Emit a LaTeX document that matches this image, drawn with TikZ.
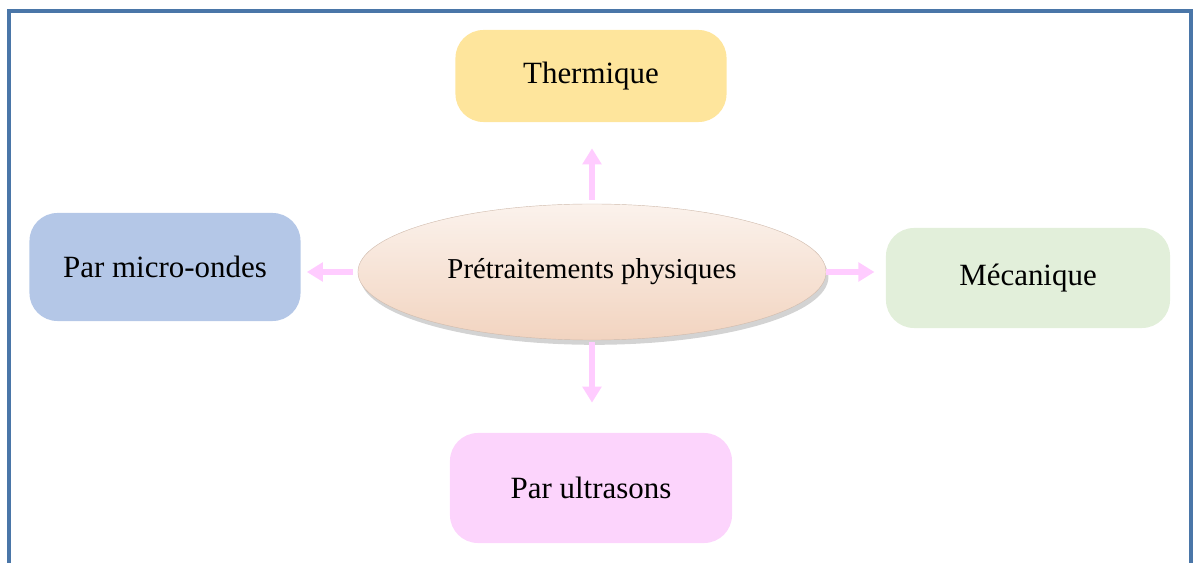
\documentclass[tikz,border=0pt]{standalone}
\usepackage{fontspec}
\setmainfont{Liberation Serif}
\usetikzlibrary{shapes.geometric,arrows.meta,shadows}

\definecolor{frameblue}{RGB}{74,118,168}
\definecolor{arrowpink}{RGB}{255,204,255}
\definecolor{thermcol}{RGB}{254,229,156}
\definecolor{microcol}{RGB}{180,199,231}
\definecolor{mecacol}{RGB}{226,239,218}
\definecolor{ultracol}{RGB}{252,212,252}
\definecolor{peach}{RGB}{242,212,192}

\begin{document}
\begin{tikzpicture}[x=0.025cm,y=-0.025cm,
    box/.style={rectangle,rounded corners=0.7cm,inner sep=0pt,font=\fontsize{22}{26}\selectfont},
    link/.style={-{Triangle[length=0.4cm,width=0.46cm]},line width=0.13cm,draw=arrowpink}]

      \useasboundingbox (0,0) rectangle (1193,563);
      \draw[frameblue,line width=0.085cm] (9,563) -- (9,11) -- (1191,11) -- (1191,563);

      \node[ellipse,inner sep=0pt,minimum width=11.7cm,minimum height=3.4cm,
            top color=peach!30,middle color=white,bottom color=peach,shading angle=0,
            draw=peach!70!gray,line width=0.3pt,
            drop shadow={opacity=0.35,shadow xshift=0.06cm,shadow yshift=-0.12cm},
            font=\fontsize{20.5}{24}\selectfont] (P) at (592,272){Prétraitements physiques};

      \node[box,fill=thermcol,minimum width=6.775cm,minimum height=2.3cm] (T) at (591,76){Thermique};
      \node[box,fill=microcol,minimum width=6.775cm,minimum height=2.7cm] (M) at (165,267){Par micro-ondes};
      \node[box,fill=mecacol,minimum width=7.1cm,minimum height=2.5cm] (C) at (1028,278){Mécanique};
      \node[box,fill=ultracol,minimum width=7.05cm,minimum height=2.75cm] (U) at (591,488){Par ultrasons};

      \draw[link,shorten <=0.1cm,shorten >=0.65cm] (P.north) -- (T.south -| P.north);
      \draw[link,shorten <=0.12cm,shorten >=0.15cm] (P.west) -- (P.west -| M.east);
      \draw[link,shorten >=0.28cm] (P.east) -- (P.east -| C.west);
      \draw[link,shorten <=0.05cm,shorten >=0.75cm] (P.south) -- (U.north -| P.south);

    \end{tikzpicture}
\end{document}
